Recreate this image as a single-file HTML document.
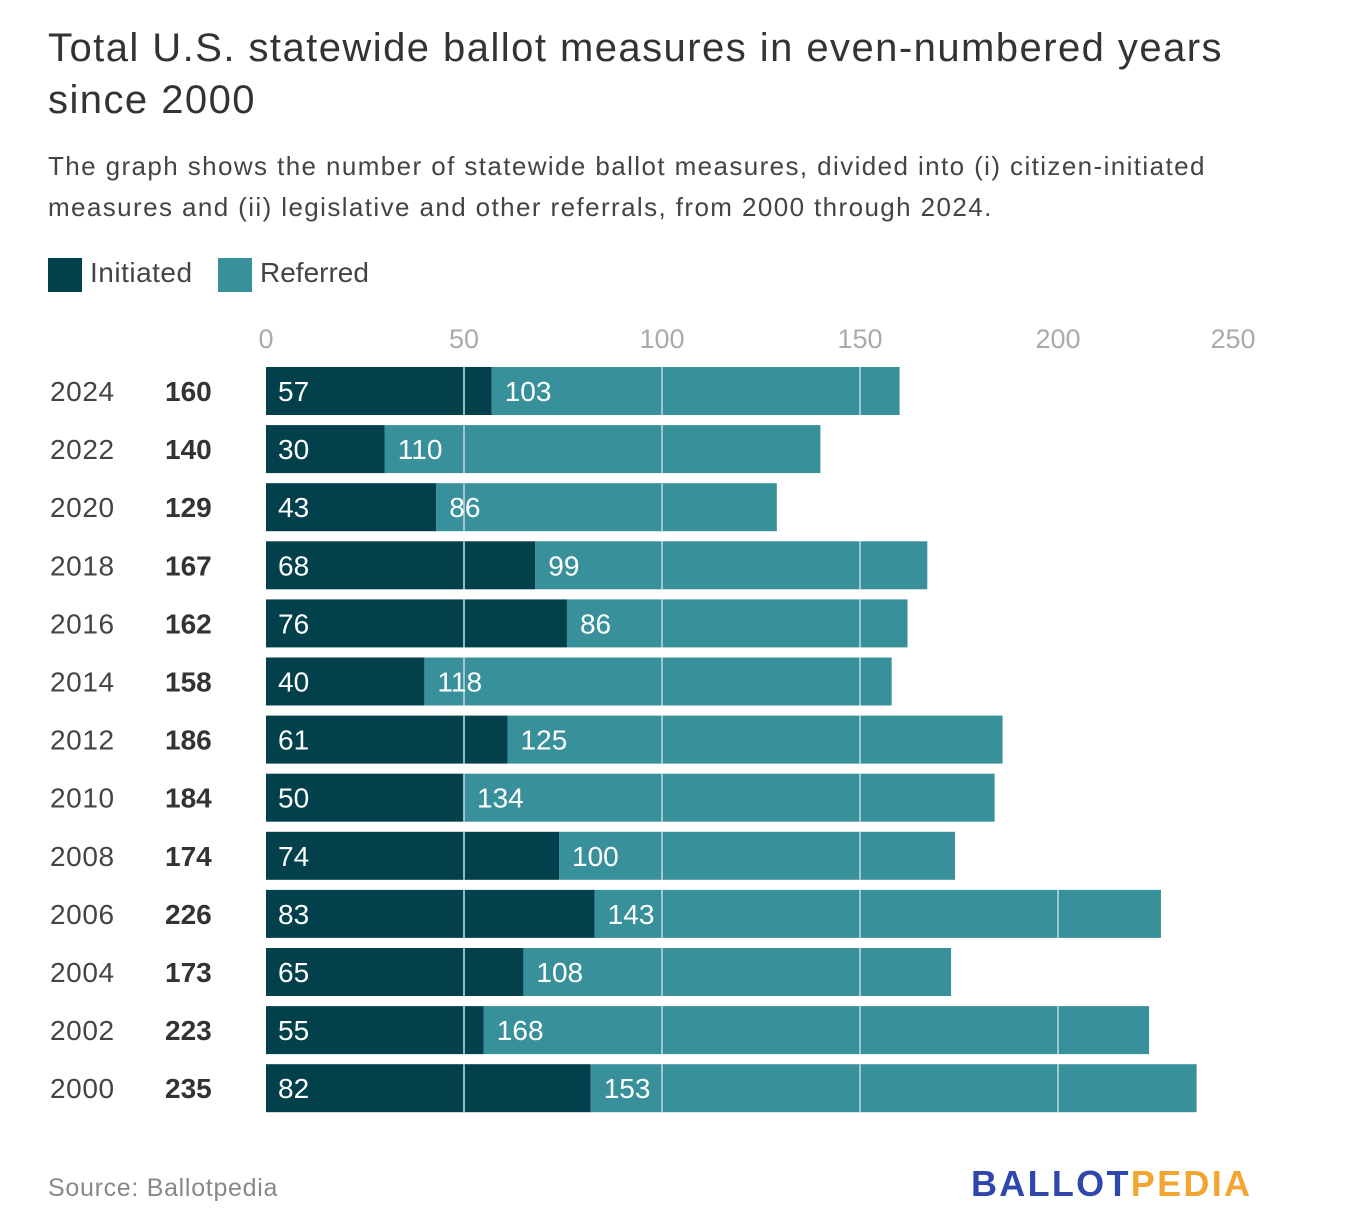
<!DOCTYPE html>
<html><head><meta charset="utf-8"><style>
body{margin:0;background:#fff;font-family:"Liberation Sans",sans-serif;}
#wrap{position:relative;width:1372px;height:1228px;overflow:hidden;}
.t{position:absolute;white-space:nowrap;}
</style></head><body>
<div id="wrap">
<div class="t" style="left:48px;top:22px;font-size:40px;line-height:52px;color:#333;letter-spacing:1.45px;">Total U.S. statewide ballot measures in even-numbered years<br>since 2000</div>
<div class="t" style="left:48px;top:146px;font-size:26px;line-height:41px;color:#444;letter-spacing:1.4px;">The graph shows the number of statewide ballot measures, divided into (i) citizen-initiated<br>measures and (ii) legislative and other referrals, from 2000 through 2024.</div>
<div style="position:absolute;left:48px;top:258px;width:34px;height:34px;background:#02404c"></div>
<div class="t" style="left:90px;top:257px;font-size:28px;color:#444;letter-spacing:0.5px;">Initiated</div>
<div style="position:absolute;left:218px;top:258px;width:34px;height:34px;background:#38909b"></div>
<div class="t" style="left:260px;top:257px;font-size:28px;color:#444;">Referred</div>
<svg id="chart" width="1372" height="1228" style="position:absolute;left:0;top:0"></svg>
<div class="t" style="left:48px;top:1174px;font-size:25px;color:#888;letter-spacing:0.7px;">Source: Ballotpedia</div>
<div class="t" style="left:971px;top:1163px;font-size:36px;font-weight:bold;letter-spacing:2.3px;"><span style="color:#2f47ad">BALLOT</span><span style="color:#f2a531">PEDIA</span></div>
</div>
<script>
const years=["2024","2022","2020","2018","2016","2014","2012","2010","2008","2006","2004","2002","2000"];
const initiated=[57,30,43,68,76,40,61,50,74,83,65,55,82];
const referred=[103,110,86,99,86,118,125,134,100,143,108,168,153];
const ticks=[0,50,100,150,200,250];
const NS="http://www.w3.org/2000/svg";
const svg=document.getElementById('chart');
const x0=266,scale=3.96,top0=367,pitch=58.1,bh=48;
const xs=v=>x0+v*scale;
const ys=i=>top0+i*pitch;
function el(tag,attrs,parent){const e=document.createElementNS(NS,tag);for(const k in attrs)e.setAttribute(k,attrs[k]);(parent||svg).appendChild(e);return e;}
ticks.forEach((t,i)=>{
  const tx=el('text',{x:i===ticks.length-1?xs(t)-23:xs(t),y:348,'text-anchor':'middle','font-size':27,fill:'#aaa','font-family':'Liberation Sans'});
  tx.textContent=t;
  
  
});
years.forEach((yr,i)=>{
  const y=ys(i),a=initiated[i],b=referred[i];
  const r1=el('rect',{x:xs(0),y:y,width:a*scale,height:bh,fill:'#02404c'});
  
  
  const r2=el('rect',{x:xs(a),y:y,width:b*scale,height:bh,fill:'#38909b'});
  
  
  const l1=el('text',{x:xs(0)+12,y:y+34,'font-size':28,fill:'#fff','font-family':'Liberation Sans'});
  l1.textContent=a;
  
  
  const yl=el('text',{x:50,y:y+34,'font-size':28,fill:'#444','font-family':'Liberation Sans','letter-spacing':0.6});
  yl.textContent=yr;
  
  
  const tl=el('text',{x:165,y:y+34,'font-size':28,'font-weight':'bold',fill:'#333','font-family':'Liberation Sans'});
  tl.textContent=a+b;
  
  
});
ticks.slice(1,-1).forEach(t=>{
  years.forEach((yr,i)=>{
    if(initiated[i]+referred[i]>=t){
      const g=el('line',{x1:xs(t),x2:xs(t),y1:ys(i),y2:ys(i)+bh,stroke:'#b8d6da','stroke-width':2,opacity:0.8});
      
      
    }
  });
});
years.forEach((yr,i)=>{
  const y=ys(i);
  const l2=el('text',{x:xs(initiated[i])+13,y:y+34,'font-size':28,fill:'#fff','font-family':'Liberation Sans'});
  l2.textContent=referred[i];
  
  
});
</script>
</body></html>
